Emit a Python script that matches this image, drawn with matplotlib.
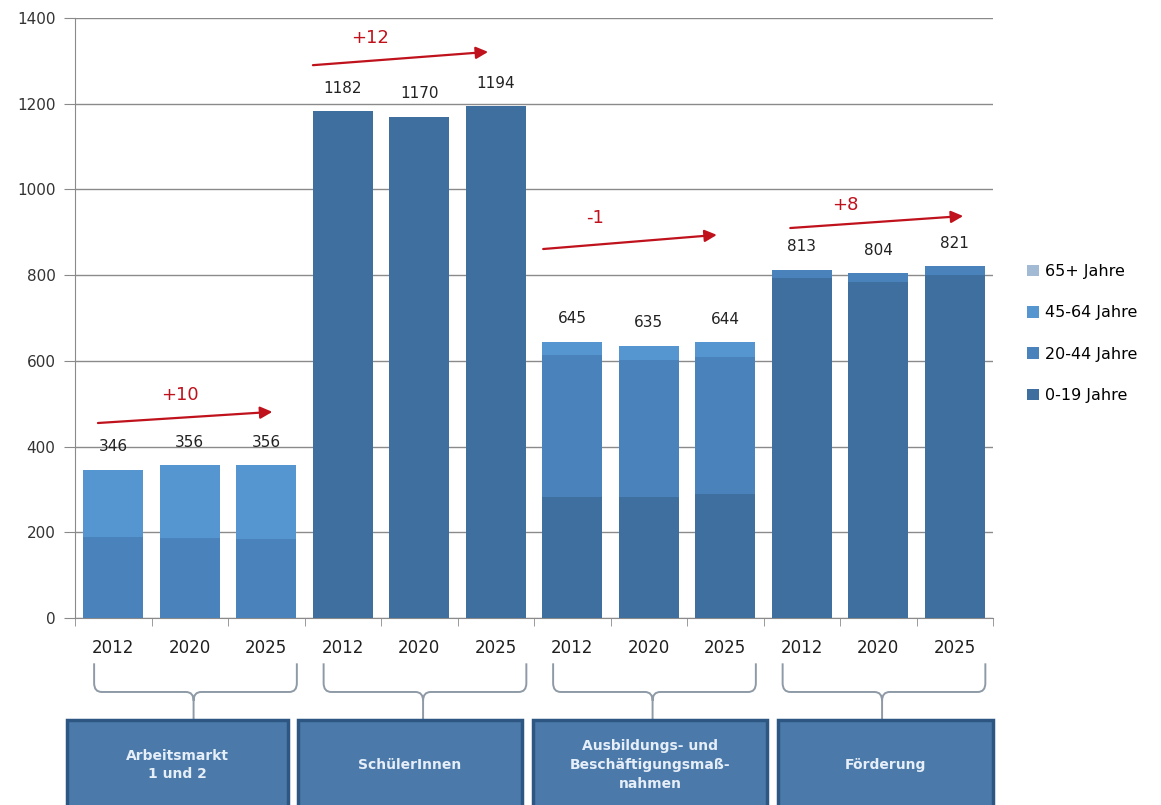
"""Stacked bar chart of age groups per programme and year."""

import matplotlib

matplotlib.use("Agg")

import numpy as np  # noqa: E402
from matplotlib import pyplot as plt  # noqa: E402
from matplotlib.patches import PathPatch, Rectangle  # noqa: E402
from matplotlib.path import Path  # noqa: E402
from matplotlib.transforms import blended_transform_factory  # noqa: E402

GROUPS = [
    "Arbeitsmarkt\n1 und 2",
    "SchülerInnen",
    "Ausbildungs- und\nBeschäftigungsmaß-\nnahmen",
    "Förderung",
]
YEARS = ["2012", "2020", "2025"]

AGE_0_19 = [0, 0, 0, 1182, 1170, 1194, 282, 282, 289, 793, 784, 800]
AGE_20_44 = [189, 187, 185, 0, 0, 0, 332, 320, 320, 20, 20, 21]
AGE_45_64 = [157, 169, 171, 0, 0, 0, 31, 33, 35, 0, 0, 0]
AGE_65_PLUS = [0, 0, 0, 0, 0, 0, 0, 0, 0, 0, 0, 0]

SERIES_LABELS = ["0-19 Jahre", "20-44 Jahre", "45-64 Jahre", "65+ Jahre"]
CHANGE_LABELS = ["+10", "+12", "-1", "+8"]

COLORS = ["#3f6f9f", "#4a82bb", "#5596d1", "#a3bad4"]
RED = "#c0121c"
BOX_FACE = "#4b7aaa"
BOX_EDGE = "#2d5782"
BRACE = "#8e9aa6"

# arrow start/end and text anchor per group, in data units
ARROWS = [
    ((-0.20, 455), (2.08, 481), (0.87, 520)),
    ((2.61, 1290), (4.90, 1321), (3.36, 1353)),
    ((5.62, 861), (7.89, 894), (6.30, 933)),
    ((8.85, 910), (11.11, 938), (9.57, 964)),
]
BOX_EDGES = [(-0.60, 2.28), (2.42, 5.34), (5.49, 8.55), (8.69, 11.50)]


def draw_brace(fig, trans, x0, x1, xm, y_top, y_mid, y_bot, rx=0.1, ry=0.011):
    """Curly brace under a group of bars, stem pointing down."""
    verts = [
        (x0, y_top), (x0, y_mid + ry), (x0, y_mid), (x0 + rx, y_mid),
        (xm - rx, y_mid), (xm, y_mid), (xm, y_mid - ry), (xm, y_bot),
        (xm, y_mid - ry), (xm, y_mid), (xm + rx, y_mid),
        (x1 - rx, y_mid), (x1, y_mid), (x1, y_mid + ry), (x1, y_top),
    ]
    codes = [
        Path.MOVETO, Path.LINETO, Path.CURVE3, Path.CURVE3,
        Path.LINETO, Path.CURVE3, Path.CURVE3, Path.LINETO,
        Path.MOVETO, Path.CURVE3, Path.CURVE3,
        Path.LINETO, Path.CURVE3, Path.CURVE3, Path.LINETO,
    ]
    patch = PathPatch(Path(verts, codes), facecolor="none", edgecolor=BRACE,
                      lw=1.4, transform=trans, clip_on=False)
    fig.add_artist(patch)


fig = plt.figure(figsize=(11.61, 8.05), dpi=100)
ax = fig.add_axes([0.0646, 0.2323, 0.7907, 0.7453])

series = [np.array(AGE_0_19), np.array(AGE_20_44),
          np.array(AGE_45_64), np.array(AGE_65_PLUS)]
x = np.arange(len(AGE_0_19))
bottom = np.zeros(len(x))
handles = []
for values, label, color in zip(series, SERIES_LABELS, COLORS):
    bars = ax.bar(x, values, 0.78, bottom=bottom, color=color, label=label,
                  zorder=3)
    handles.append(bars)
    bottom = bottom + values

totals = bottom
for xi, total in zip(x, totals):
    ax.annotate(f"{int(total)}", (xi, total), xytext=(0, 16.5),
                textcoords="offset points", ha="center", va="center",
                fontsize=11, color="#222222")

for (start, end, text_pos), label in zip(ARROWS, CHANGE_LABELS):
    ax.annotate("", xy=end, xytext=start,
                arrowprops=dict(arrowstyle="-|>", color=RED, lw=1.6,
                                mutation_scale=18, shrinkA=0, shrinkB=0))
    ax.text(text_pos[0], text_pos[1], label, ha="center", va="center",
            fontsize=13, color=RED)

ax.set_xlim(-0.5, len(x) - 0.5)
ax.set_ylim(0, 1400)
ax.set_yticks(range(0, 1401, 200))
ax.yaxis.grid(True, color="#8a8a8a", lw=1.0, zorder=0)
ax.set_axisbelow(True)

ax.set_xticks(x)
ax.set_xticklabels(YEARS * len(GROUPS))
ax.set_xticks(np.arange(-0.5, len(x)), minor=True)
ax.tick_params(axis="x", which="major", length=0, pad=15, labelsize=12,
               labelcolor="#1f1f1f")
ax.tick_params(axis="x", which="minor", length=6, color="#8a8a8a")
ax.tick_params(axis="y", length=8, color="#8a8a8a", labelsize=11,
               labelcolor="#333333", pad=6)

for side in ("top", "right"):
    ax.spines[side].set_visible(False)
for side in ("left", "bottom"):
    ax.spines[side].set_color("#8a8a8a")

trans = blended_transform_factory(ax.transData, fig.transFigure)
for g, name in enumerate(GROUPS):
    base = g * len(YEARS)
    draw_brace(fig, trans, base - 0.25, base + 2.40, base + 1.05,
               0.176, 0.1404, 0.1056)
    left, right = BOX_EDGES[g]
    fig.add_artist(Rectangle((left, -0.02), right - left, 0.1256,
                             facecolor=BOX_FACE, edgecolor=BOX_EDGE, lw=2.5,
                             transform=trans, clip_on=False))
    fig.text((left + right) / 2, 0.0497, name, transform=trans,
             ha="center", va="center", fontsize=10, fontweight="bold",
             color="#e6eef8", linespacing=1.45)

fig.legend(handles[::-1], SERIES_LABELS[::-1], loc="upper left",
           bbox_to_anchor=(0.872, 0.69), frameon=False, fontsize=11.5,
           handlelength=0.75, handleheight=0.75, handletextpad=0.4,
           labelspacing=1.65)

fig.savefig("out.png", dpi=100)
